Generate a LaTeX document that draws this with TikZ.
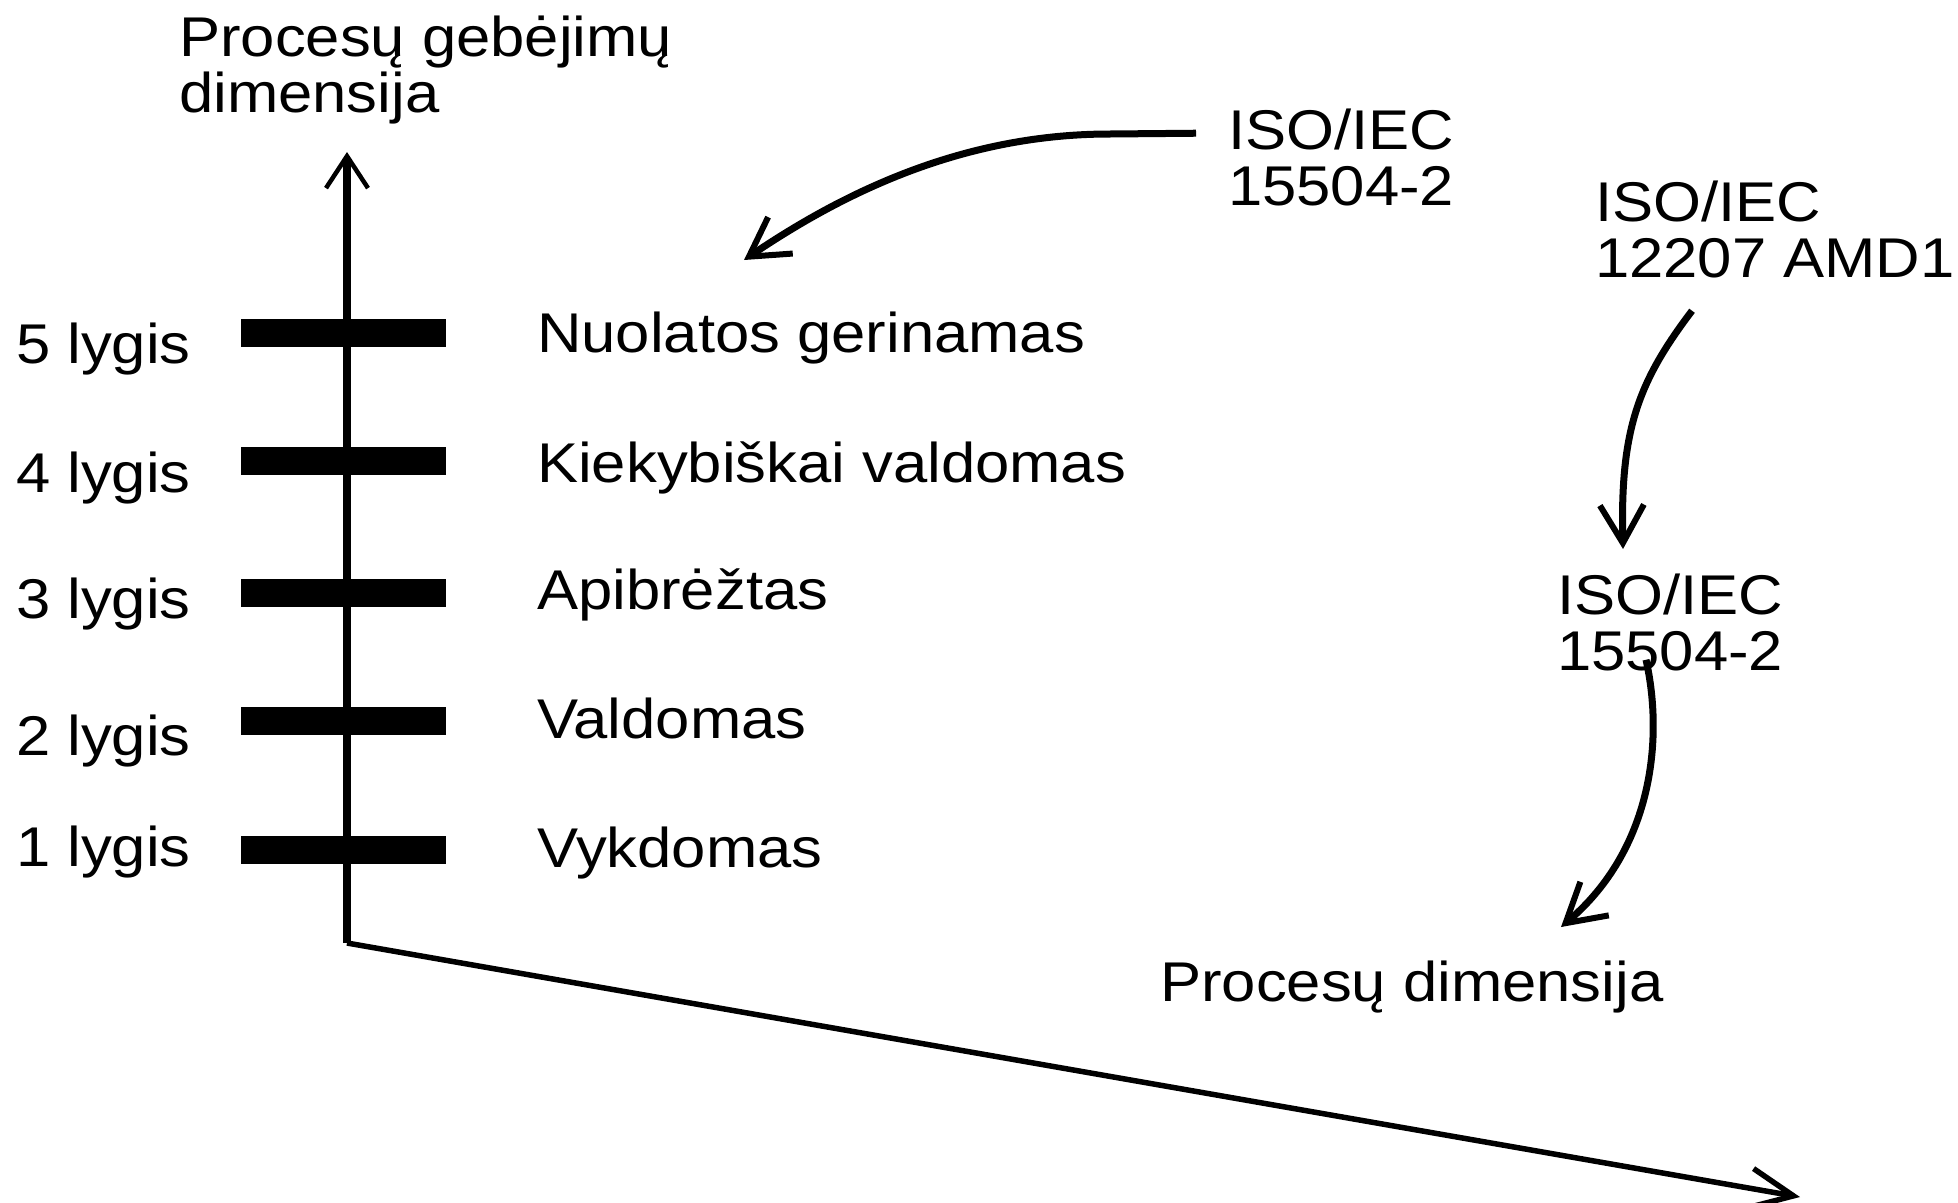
\documentclass[tikz,border=0pt]{standalone}
\usepackage{fontspec}
\setmainfont{Liberation Sans}[FakeStretch=1.1]
\usetikzlibrary{arrows.meta}
\begin{document}
\begin{tikzpicture}[x=1pt,y=-1pt,
  lbl/.style={font=\fontsize{56}{56}\selectfont, inner sep=0pt, anchor=base west, align=left},
  bar/.style={fill=black, draw=none, inner sep=0pt, minimum width=205pt, minimum height=28pt},
  vaxis/.style={line width=8pt, -{Straight Barb[length=32pt,width=42pt,line width=4.5pt]}},
  haxis/.style={line width=5.5pt, -{Straight Barb[length=44pt,width=40pt,line width=5.5pt]}},
  curved/.style={line width=7pt, -{Straight Barb[length=38pt,width=44pt,line width=6pt]}}]
\useasboundingbox (0,0) rectangle (1958,1202);
\fill[white] (0,0) rectangle (1958,1202);

% axes
\coordinate (origin) at (347,943);
\coordinate (ytip) at (347,152);
\coordinate (xtip) at (1800,1197);
\draw[vaxis] (origin) -- (ytip);
\draw[haxis] (origin) -- (xtip);

% bars
\node[bar] (bar5) at (343.5,333) {};
\node[bar] (bar4) at (343.5,461) {};
\node[bar] (bar3) at (343.5,593) {};
\node[bar] (bar2) at (343.5,721) {};
\node[bar] (bar1) at (343.5,850) {};

% level labels
\node[lbl] (l5) at (16,363) {5 lygis};
\node[lbl] (l4) at (16,492) {4 lygis};
\node[lbl] (l3) at (16,618) {3 lygis};
\node[lbl] (l2) at (16,755) {2 lygis};
\node[lbl] (l1) at (16,866) {1 lygis};

% level names
\node[lbl] (n5) at (537,352) {Nuolatos gerinamas};
\node[lbl] (n4) at (537,482) {Kiekybiškai valdomas};
\node[lbl] (n3) at (537,609) {Apibrėžtas};
\node[lbl] (n2) at (537,738) {Valdomas};
\node[lbl] (n1) at (537,867) {Vykdomas};

% titles (base anchor = baseline of last line)
\node[lbl] (ytitle) at (179,112) {Procesų gebėjimų\\dimensija};
\node[lbl] (xtitle) at (1160,1001) {Procesų dimensija};

% standards
\node[lbl] (isoA) at (1228,205) {ISO/IEC\\15504-2};
\node[lbl] (isoB) at (1595,277) {ISO/IEC\\12207 AMD1};
\node[lbl] (isoC) at (1557,670) {ISO/IEC\\15504-2};

% curved arrows
\coordinate (aE) at (744,260);
\coordinate (bE) at (1623,549);
\coordinate (cE) at (1561,927);
\draw[curved] ([xshift=-32pt,yshift=-25pt]isoA.north west) -- (1110,134)
  .. controls (960,134) and (840,195) .. (aE);
\draw[curved] ([xshift=97pt,yshift=-33pt]isoB.south west)
  .. controls (1638,382) and (1620,430) .. (bE);
\draw[curved] ([xshift=89pt,yshift=11pt]isoC.south west)
  .. controls (1664,740) and (1652,850) .. (cE);
\end{tikzpicture}
\end{document}
